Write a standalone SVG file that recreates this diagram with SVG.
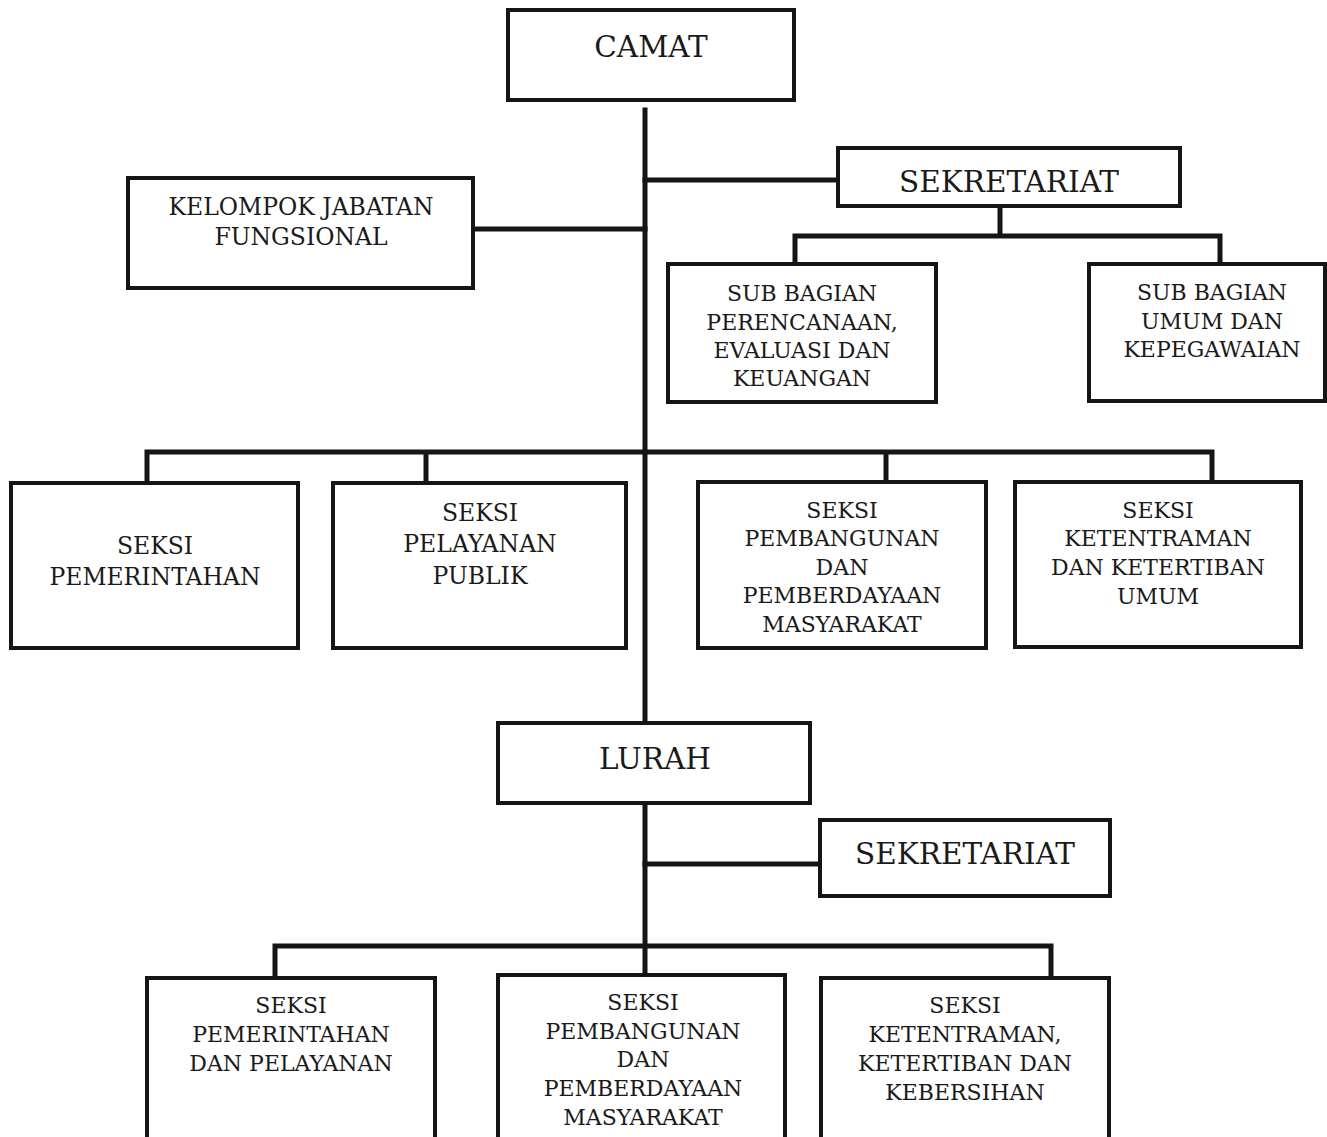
<svg xmlns="http://www.w3.org/2000/svg" width="1327" height="1137" viewBox="0 0 1327 1137">
<style>
.box{fill:#fff;stroke:#151515;stroke-width:4}
.ln{stroke:#151515;stroke-width:5;fill:none;stroke-linecap:square}
text{font-family:"DejaVu Serif","Liberation Serif",serif;fill:#1a1a1a;text-anchor:middle}
.b{font-size:29.5px}
.m{font-size:23.5px}
.s{font-size:22px}
</style>
<rect width="1327" height="1137" fill="#fff"/>
<g id="connectors">
<path class="ln" d="M645,110 V722"/>
<path class="ln" d="M645,180 H838"/>
<path class="ln" d="M473,229 H645"/>
<path class="ln" d="M1000,206 V236 M795,264 V236 H1220 V264"/>
<path class="ln" d="M147,483 V452 H1212 V482 M426,452 V483 M886,452 V482"/>
<path class="ln" d="M645,803 V977"/>
<path class="ln" d="M645,864 H820"/>
<path class="ln" d="M275,978 V946 H1051 V978"/>
</g>
<g id="camat"><rect class="box" x="508" y="10" width="286" height="90"/><text class="b" x="651" y="57">CAMAT</text></g>
<g id="sekretariat1"><rect class="box" x="838" y="148" width="342" height="58"/><text class="b" x="1009" y="192">SEKRETARIAT</text></g>
<g id="kelompok"><rect class="box" x="128" y="178" width="345" height="110"/><text class="m" x="301" y="215">KELOMPOK JABATAN</text><text class="m" x="301" y="245">FUNGSIONAL</text></g>
<g id="subbag-perencanaan"><rect class="box" x="668" y="264" width="268" height="138"/>
<text class="s" x="802" y="301">SUB BAGIAN</text><text class="s" x="802" y="330">PERENCANAAN,</text><text class="s" x="802" y="358">EVALUASI DAN</text><text class="s" x="802" y="386">KEUANGAN</text></g>
<g id="subbag-umum"><rect class="box" x="1089" y="264" width="236" height="137"/>
<text class="s" x="1212" y="300">SUB BAGIAN</text><text class="s" x="1212" y="329">UMUM DAN</text><text class="s" x="1212" y="357">KEPEGAWAIAN</text></g>
<g id="seksi-pemerintahan"><rect class="box" x="11" y="483" width="287" height="165"/>
<text class="m" x="155" y="554">SEKSI</text><text class="m" x="155" y="585">PEMERINTAHAN</text></g>
<g id="seksi-pelayanan"><rect class="box" x="333" y="483" width="293" height="165"/>
<text class="m" x="480" y="521">SEKSI</text><text class="m" x="480" y="552">PELAYANAN</text><text class="m" x="480" y="584">PUBLIK</text></g>
<g id="seksi-pembangunan"><rect class="box" x="698" y="482" width="288" height="166"/>
<text class="s" x="842" y="518">SEKSI</text><text class="s" x="842" y="546">PEMBANGUNAN</text><text class="s" x="842" y="575">DAN</text><text class="s" x="842" y="603">PEMBERDAYAAN</text><text class="s" x="842" y="632">MASYARAKAT</text></g>
<g id="seksi-ketentraman"><rect class="box" x="1015" y="482" width="286" height="165"/>
<text class="s" x="1158" y="518">SEKSI</text><text class="s" x="1158" y="546">KETENTRAMAN</text><text class="s" x="1158" y="575">DAN KETERTIBAN</text><text class="s" x="1158" y="604">UMUM</text></g>
<g id="lurah"><rect class="box" x="498" y="723" width="312" height="80"/><text class="b" x="655" y="769">LURAH</text></g>
<g id="sekretariat2"><rect class="box" x="820" y="820" width="290" height="76"/><text class="b" x="965" y="864">SEKRETARIAT</text></g>
<g id="kel-pemerintahan"><rect class="box" x="147" y="978" width="288" height="190"/>
<text class="s" x="291" y="1013">SEKSI</text><text class="s" x="291" y="1042">PEMERINTAHAN</text><text class="s" x="291" y="1071">DAN PELAYANAN</text></g>
<g id="kel-pembangunan"><rect class="box" x="498" y="975" width="287" height="193"/>
<text class="s" x="643" y="1010">SEKSI</text><text class="s" x="643" y="1039">PEMBANGUNAN</text><text class="s" x="643" y="1067">DAN</text><text class="s" x="643" y="1096">PEMBERDAYAAN</text><text class="s" x="643" y="1125">MASYARAKAT</text></g>
<g id="kel-ketentraman"><rect class="box" x="821" y="978" width="288" height="190"/>
<text class="s" x="965" y="1013">SEKSI</text><text class="s" x="965" y="1042">KETENTRAMAN,</text><text class="s" x="965" y="1071">KETERTIBAN DAN</text><text class="s" x="965" y="1100">KEBERSIHAN</text></g>
</svg>
